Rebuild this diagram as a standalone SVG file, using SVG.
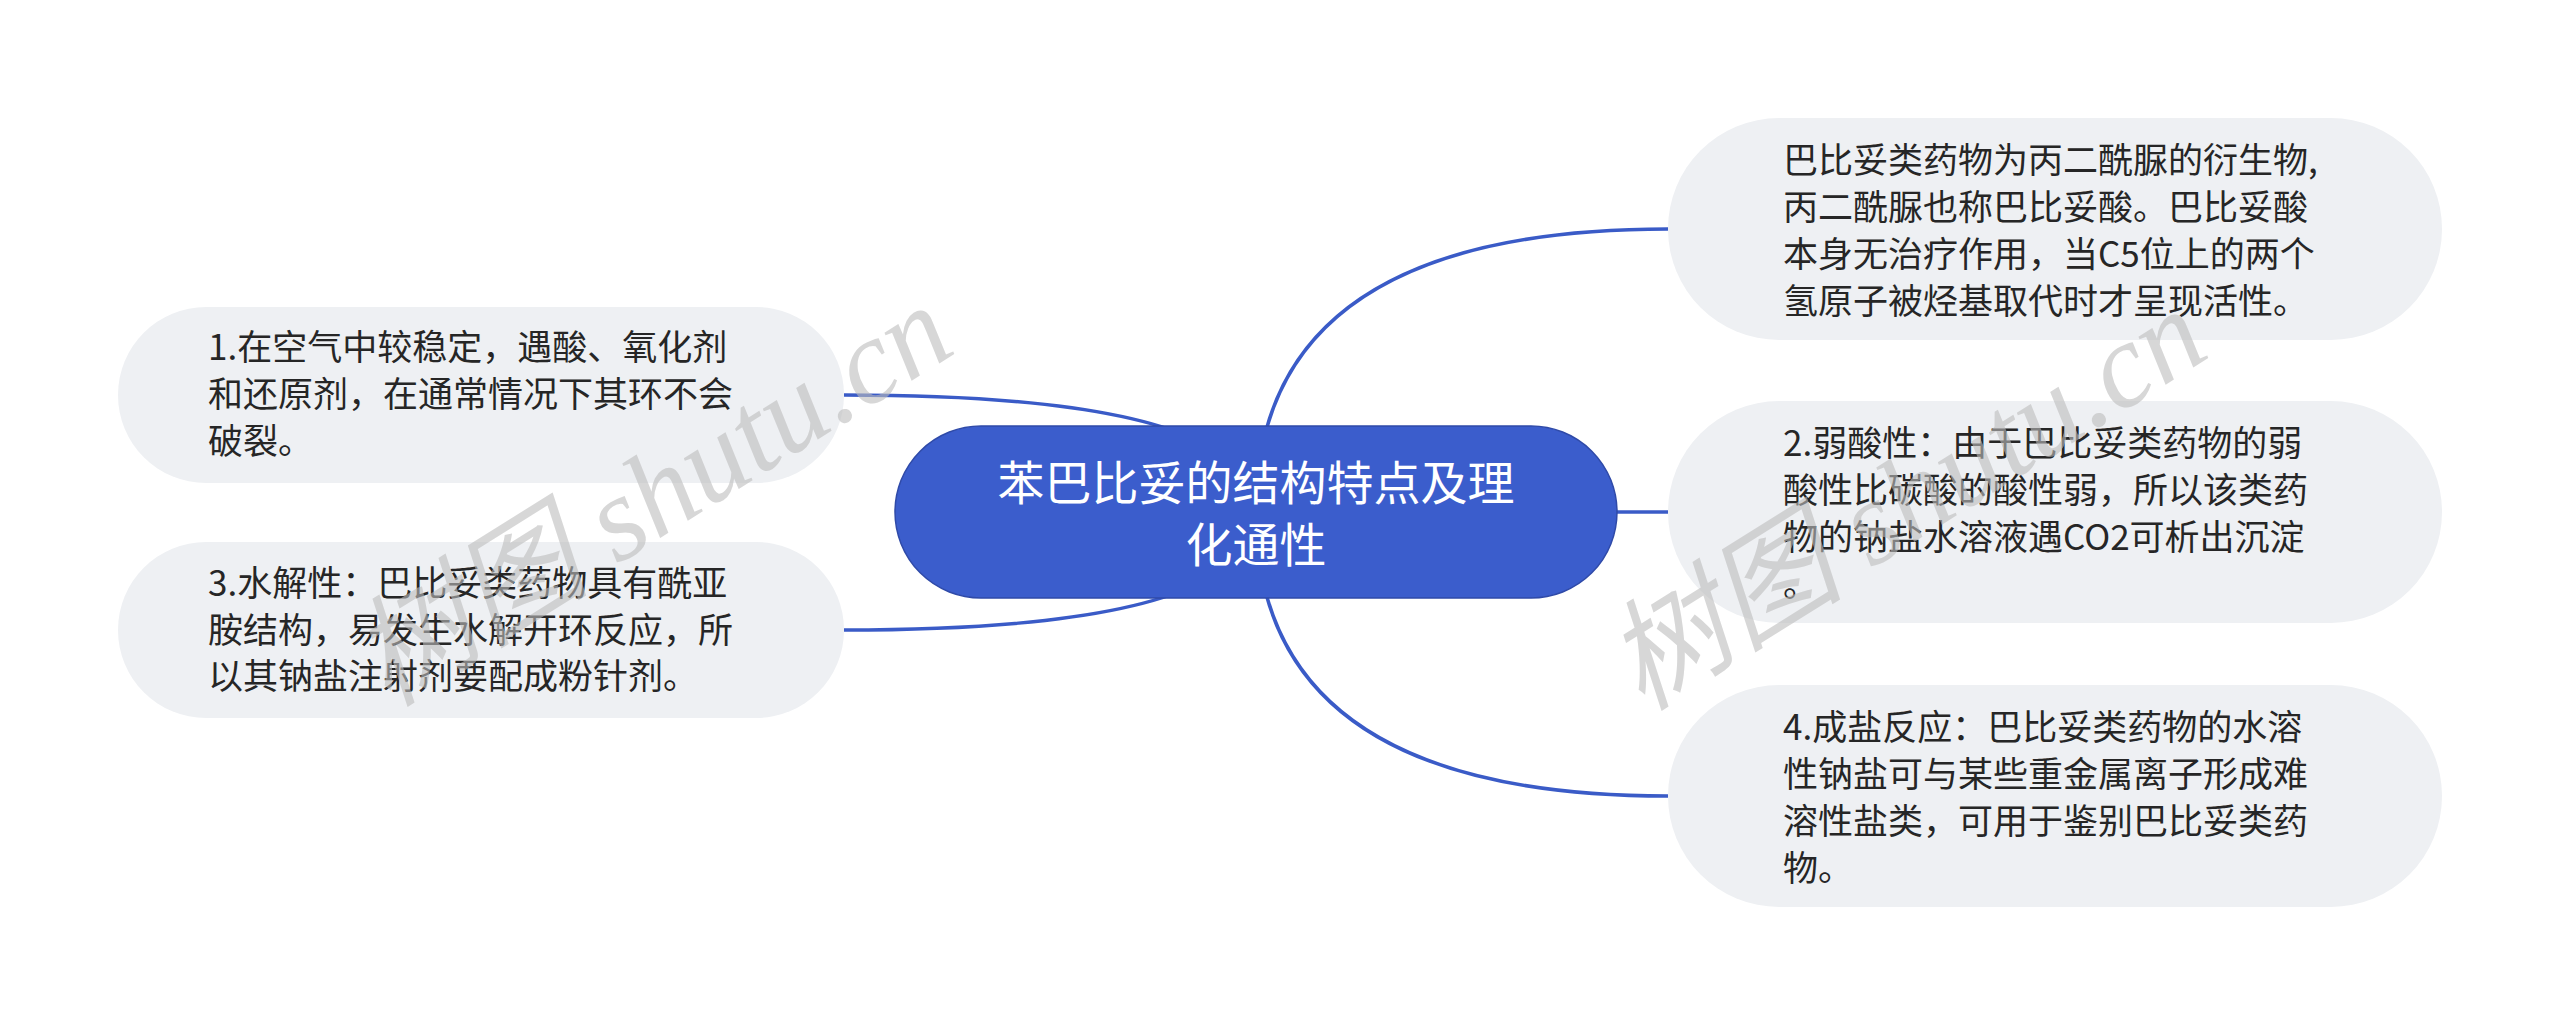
<svg xmlns="http://www.w3.org/2000/svg" width="2560" height="1025" viewBox="0 0 2560 1025">
<style>
.edge{fill:none;stroke:#3a5bc7;stroke-width:3.5}
.leaf rect{fill:#eef0f3}
.leaf text{font-family:"Noto Sans CJK SC","Noto Sans",sans-serif;font-size:35px;fill:#262626}
.root rect{fill:#3b5dcc;stroke:#2f4aa8;stroke-width:1.5}
.root text{font-family:"Noto Sans CJK SC","Noto Sans",sans-serif;font-size:47px;fill:#ffffff;text-anchor:middle}
.wm{font-family:"Liberation Serif","Noto Sans CJK SC",serif;font-style:italic;font-size:120px;fill:#bdbdbd;opacity:0.6}
</style>
<rect width="2560" height="1025" fill="#ffffff"/>
<g id="connectors">
<path class="edge" d="M1256 512 Q1256 395 844 395"/>
<path class="edge" d="M1256 512 Q1256 630 844 630"/>
<path class="edge" d="M1256 512 Q1256 229 1668 229"/>
<path class="edge" d="M1256 512 L1668 512"/>
<path class="edge" d="M1256 512 Q1256 796 1668 796"/>
</g>
<g id="root" class="root">
<rect x="895" y="426" width="722" height="172" rx="86"/>
<text x="1256" y="500">苯巴比妥的结构特点及理</text>
<text x="1256" y="562">化通性</text>
</g>
<g id="node1" class="leaf">
<rect x="118" y="307" width="726" height="176" rx="88"/>
<text x="208" y="360">1.在空气中较稳定，遇酸、氧化剂</text>
<text x="208" y="407">和还原剂，在通常情况下其环不会</text>
<text x="208" y="454">破裂。</text>
</g>
<g id="node3" class="leaf">
<rect x="118" y="542" width="726" height="176" rx="88"/>
<text x="208" y="596">3.水解性：巴比妥类药物具有酰亚</text>
<text x="208" y="643">胺结构，易发生水解开环反应，所</text>
<text x="208" y="689">以其钠盐注射剂要配成粉针剂。</text>
</g>
<g id="nodeA" class="leaf">
<rect x="1668" y="118" width="774" height="222" rx="111"/>
<text x="1783" y="173">巴比妥类药物为丙二酰脲的衍生物,</text>
<text x="1783" y="220">丙二酰脲也称巴比妥酸。巴比妥酸</text>
<text x="1783" y="267">本身无治疗作用，当C5位上的两个</text>
<text x="1783" y="314">氢原子被烃基取代时才呈现活性。</text>
</g>
<g id="node2" class="leaf">
<rect x="1668" y="401" width="774" height="222" rx="111"/>
<text x="1783" y="456">2.弱酸性：由于巴比妥类药物的弱</text>
<text x="1783" y="503">酸性比碳酸的酸性弱，所以该类药</text>
<text x="1783" y="550">物的钠盐水溶液遇CO2可析出沉淀</text>
<text x="1783" y="597">。</text>
</g>
<g id="node4" class="leaf">
<rect x="1668" y="685" width="774" height="222" rx="111"/>
<text x="1783" y="740">4.成盐反应：巴比妥类药物的水溶</text>
<text x="1783" y="787">性钠盐可与某些重金属离子形成难</text>
<text x="1783" y="834">溶性盐类，可用于鉴别巴比妥类药</text>
<text x="1783" y="881">物。</text>
</g>
<g id="watermark">
<text class="wm" transform="translate(388 708) rotate(-32)">树图 shutu.cn</text>
<text class="wm" transform="translate(1642 712) rotate(-32)">树图 shutu.cn</text>
</g>
</svg>
